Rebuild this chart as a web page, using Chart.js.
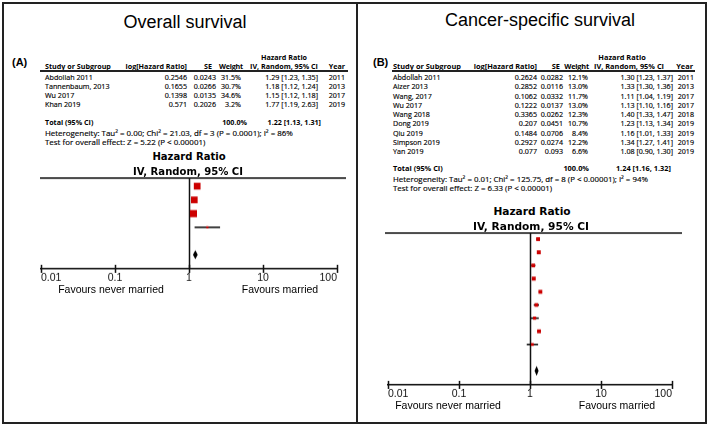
<!DOCTYPE html>
<html><head><meta charset="utf-8">
<script src="https://cdn.jsdelivr.net/npm/chart.js@4.4.1/dist/chart.umd.min.js"></script>
<style>
html,body{margin:0;padding:0;background:#fff;}
body{width:709px;height:426px;position:relative;overflow:hidden;}
.t{position:absolute;white-space:nowrap;line-height:1;color:#000;}
.r{-webkit-text-stroke:0.15px #000;}
.box{position:absolute;box-sizing:border-box;border:2px solid #222;}
.hl{position:absolute;background:#222;}
canvas{position:absolute;}
</style></head>
<body>
<script>
// ---------------- data ----------------
const osStudy  = ['Abdollah 2011','Tannenbaum, 2013','Wu 2017','Khan 2019'];
const osLogHR  = ['0.2546','0.1655','0.1398','0.571'];
const osSE     = ['0.0243','0.0266','0.0135','0.2026'];
const osWeight = [31.5,30.7,34.6,3.2];
const osHR     = [1.29,1.18,1.15,1.77];
const osLo     = [1.23,1.12,1.12,1.19];
const osHi     = [1.35,1.24,1.18,2.63];
const osYear   = [2011,2013,2017,2019];
const osTotal  = [1.22,1.13,1.31];
const osHet    = 'Heterogeneity: Tau² = 0.00; Chi² = 21.03, df = 3 (P = 0.0001); I² = 86%';
const osTest   = 'Test for overall effect: Z = 5.22 (P < 0.00001)';

const cssStudy  = ['Abdollah 2011','Aizer 2013','Wang, 2017','Wu 2017','Wang 2018','Dong 2019','Qiu 2019','Simpson 2019','Yan 2019'];
const cssLogHR  = ['0.2624','0.2852','0.1062','0.1222','0.3365','0.207','0.1484','0.2927','0.077'];
const cssSE     = ['0.0282','0.0116','0.0332','0.0137','0.0262','0.0451','0.0706','0.0274','0.093'];
const cssWeight = [12.1,13.0,11.7,13.0,12.3,10.7,8.4,12.2,6.6];
const cssHR     = [1.30,1.33,1.11,1.13,1.40,1.23,1.16,1.34,1.08];
const cssLo     = [1.23,1.30,1.04,1.10,1.33,1.13,1.01,1.27,0.90];
const cssHi     = [1.37,1.36,1.19,1.16,1.47,1.34,1.33,1.41,1.30];
const cssYear   = [2011,2013,2017,2017,2018,2019,2019,2019,2019];
const cssTotal  = [1.24,1.16,1.32];
const cssHet    = 'Heterogeneity: Tau² = 0.01; Chi² = 125.75, df = 8 (P < 0.00001); I² = 94%';
const cssTest   = 'Test for overall effect: Z = 6.33 (P < 0.00001)';

const tickValues = [0.01,0.1,1,10,100];
const tickLabels = ['0.01','0.1','1','10','100'];
const favourLeft = 'Favours never married';
const favourRight = 'Favours married';

// ---------------- helpers ----------------
const TAB = '"Open Sans","Noto Sans",sans-serif';
const HDR = '"DejaVu Sans",Verdana,sans-serif';
function sizeFor(text, weight, target, fam) {
  const s = document.createElement('span');
  s.style.cssText = 'position:absolute;white-space:nowrap;visibility:hidden;font:' + weight + ' 100px ' + fam;
  s.textContent = text; document.body.appendChild(s);
  const w = s.getBoundingClientRect().width; s.remove();
  return 100 * target / w;
}
const fnt = (weight, size, fam) => weight + ' ' + size.toFixed(2) + 'px ' + fam;
const F = {
  title: '18px "Liberation Sans",Arial,sans-serif',
  tag: 'bold 11px "Liberation Sans",Arial,sans-serif',
  ax: '10.5px "Liberation Sans",Arial,sans-serif'
};
function T(s, x, y, a, font, cls) {
  const d = document.createElement('div');
  d.className = 't' + (cls ? ' ' + cls : ''); d.textContent = s;
  d.style.left = x + 'px'; d.style.top = y + 'px';
  const tx = a === 'r' ? -100 : a === 'c' ? -50 : 0;
  d.style.transform = 'translate(' + tx + '%,-50%)';
  d.style.font = font;
  document.body.appendChild(d);
  return d;
}
function box(l, t, w, h) {
  const d = document.createElement('div'); d.className = 'box';
  Object.assign(d.style, {left: l + 'px', top: t + 'px', width: w + 'px', height: h + 'px'});
  document.body.appendChild(d);
}
function hline(x1, x2, y, th) {
  const d = document.createElement('div'); d.className = 'hl';
  Object.assign(d.style, {left: x1 + 'px', top: (y - th / 2) + 'px', width: (x2 - x1) + 'px', height: th + 'px'});
  document.body.appendChild(d);
}
const f2 = v => v.toFixed(2);
const ciText = (a, b, c) => f2(a) + ' [' + f2(b) + ', ' + f2(c) + ']';

// ---------------- frame ----------------
box(2, 2, 705, 422);
box(356, 2, 351, 422);

// ---------------- tables ----------------
function table(p, d) {
  const hs = sizeFor(d.het, 'normal', p.hetW, TAB);
  const rs = (hs + sizeFor(d.log[0], 'normal', p.numW, TAB)) / 2;
  const R = fnt('normal', rs, TAB), H = fnt('normal', hs, TAB);
  const B = fnt('bold', sizeFor('Study or Subgroup', 'bold', p.studyW, TAB), TAB);
  T(p.title, p.titleX, p.titleY, 'c', F.title);
  T(p.tag, p.tagX, 62, 'l', F.tag);
  T('Hazard Ratio', p.hrHeadX, 57, 'c', B);
  T('Study or Subgroup', p.x0, 66, 'l', B);
  T('log[Hazard Ratio]', p.h.log, 66, 'r', B);
  T('SE', p.h.se, 66, 'r', B);
  T('Weight', p.h.w, 66, 'r', B).style.letterSpacing = '-0.2px';
  T('IV, Random, 95% CI', p.h.ci, 66, 'c', B);
  T('Year', p.h.yr, 66, 'r', B);
  hline(p.line[0], p.line[1], 71, 1.3);
  d.study.forEach((s, i) => {
    const y = 77 + i * p.dy;
    T(s, p.x0, y, 'l', R, 'r');
    T(d.log[i], p.c.log, y, 'r', R, 'r');
    T(d.se[i], p.c.se, y, 'r', R, 'r');
    T(d.w[i].toFixed(1) + '%', p.c.w, y, 'r', R, 'r');
    T(ciText(d.hr[i], d.lo[i], d.hi[i]), p.c.ci, y, 'r', R, 'r');
    T(String(d.yr[i]), p.c.yr, y, 'r', R, 'r');
  });
  T('Total (95% CI)', p.x0, p.totY, 'l', B);
  T('100.0%', p.totW, p.totY, 'r', B);
  T(ciText(d.tot[0], d.tot[1], d.tot[2]), p.totCI, p.totY, 'r', B);
  T(d.het, p.x0, p.totY + 11, 'l', H, 'r');
  T(d.test, p.x0, p.totY + 20, 'l', H, 'r');
}

table({title: 'Overall survival', titleX: 185, titleY: 22, tag: '(A)', tagX: 12, hrHeadX: 284, hetW: 248, numW: 20, studyW: 66,
  x0: 45, dy: 9, h: {log: 187, se: 212, w: 243, ci: 284, yr: 345}, c: {log: 187, se: 216, w: 241, ci: 318, yr: 345},
  line: [40, 348], totY: 122, totW: 247, totCI: 321},
  {study: osStudy, log: osLogHR, se: osSE, w: osWeight, hr: osHR, lo: osLo, hi: osHi, yr: osYear, tot: osTotal, het: osHet, test: osTest});

table({title: 'Cancer-specific survival', titleX: 540, titleY: 20, tag: '(B)', tagX: 373, hrHeadX: 622, hetW: 255, numW: 20, studyW: 68,
  x0: 393, dy: 9.25, h: {log: 537, se: 560, w: 589, ci: 629, yr: 693}, c: {log: 537, se: 563, w: 588, ci: 673, yr: 694},
  line: [392, 695], totY: 168, totW: 589, totCI: 671},
  {study: cssStudy, log: cssLogHR, se: cssSE, w: cssWeight, hr: cssHR, lo: cssLo, hi: cssHi, yr: cssYear, tot: cssTotal, het: cssHet, test: cssTest});

// ---------------- forest plots ----------------
const forestPlugin = {
  id: 'forest',
  beforeDatasetsDraw(chart) {
    const o = chart.options.plugins.forest, ca = chart.chartArea, ctx = chart.ctx, x = chart.scales.x;
    ctx.save();
    ctx.strokeStyle = '#111'; ctx.lineWidth = 1.5;
    ctx.beginPath();
    ctx.moveTo(ca.left - o.ext[0], ca.top); ctx.lineTo(ca.right + o.ext[1], ca.top);
    const x1 = Math.round(x.getPixelForValue(1)) + 0.5;
    ctx.moveTo(x1, ca.top); ctx.lineTo(x1, ca.bottom);
    ctx.stroke();
    ctx.restore();
  },
  afterDatasetsDraw(chart) {
    const o = chart.options.plugins.forest, ctx = chart.ctx, x = chart.scales.x, y = chart.scales.y;
    const t = o.total, yc = y.getPixelForValue(o.totalIndex);
    ctx.save();
    ctx.fillStyle = '#000';
    ctx.beginPath();
    ctx.moveTo(x.getPixelForValue(t[1]), yc);
    ctx.lineTo(x.getPixelForValue(t[0]), yc - o.dh);
    ctx.lineTo(x.getPixelForValue(t[2]), yc);
    ctx.lineTo(x.getPixelForValue(t[0]), yc + o.dh);
    ctx.closePath(); ctx.fill();
    ctx.restore();
  },
  afterDraw(chart) {
    const ctx = chart.ctx, x = chart.scales.x, b = chart.chartArea.bottom;
    ctx.save(); ctx.strokeStyle = '#111'; ctx.lineWidth = 1.5;
    ctx.beginPath();
    x.ticks.forEach(tk => {
      const px = Math.round(x.getPixelForValue(tk.value)) + 0.5;
      ctx.moveTo(px, b - 4); ctx.lineTo(px, b + 4);
    });
    ctx.stroke(); ctx.restore();
  }
};

function forest(p, d) {
  const canvas = document.createElement('canvas');
  canvas.width = 400; canvas.height = 200;
  document.body.appendChild(canvas);
  const datasets = [{
    type: 'scatter', order: 0,
    data: d.hr.map((v, i) => ({x: v, y: i})),
    pointStyle: 'rect', borderWidth: 0,
    pointRadius: d.w.map(w => p.k * Math.sqrt(w) / Math.SQRT2),
    backgroundColor: '#cc0000'
  }];
  d.lo.forEach((lo, i) => datasets.push({
    type: 'line', order: 1, data: [{x: lo, y: i}, {x: d.hi[i], y: i}],
    borderColor: '#000', borderWidth: 1.5, pointRadius: 0
  }));
  const chart = new Chart(canvas, {
    type: 'scatter',
    data: {datasets},
    options: {
      responsive: false, maintainAspectRatio: false, animation: false, events: [],
      layout: {padding: {left: 12, right: 14, top: 8, bottom: 4}},
      plugins: {legend: {display: false}, tooltip: {enabled: false},
        forest: {ext: p.ext, total: d.tot, totalIndex: d.hr.length + 1, dh: p.dh}},
      scales: {
        x: {type: 'logarithmic', min: tickValues[0], max: tickValues[tickValues.length - 1],
          afterBuildTicks: s => { s.ticks = tickValues.map(v => ({value: v})); },
          grid: {display: false, drawTicks: false},
          border: {display: true, color: '#111', width: 1.5},
          ticks: {autoSkip: false, maxRotation: 0, align: 'inner', padding: 3, color: '#111',
            font: {family: '"Liberation Sans", Arial, sans-serif', size: 10.5},
            callback: (v, i) => tickLabels[i]}},
        y: {type: 'linear', display: false, reverse: true, min: p.ymin, max: p.ymax}
      }
    },
    plugins: [forestPlugin]
  });
  let ca = chart.chartArea;
  chart.resize(p.right - p.left + chart.width - (ca.right - ca.left), p.bottom - p.top + chart.height - (ca.bottom - ca.top));
  ca = chart.chartArea;
  canvas.style.left = (p.left - ca.left) + 'px';
  canvas.style.top = (p.top - ca.top) + 'px';
  const PH = fnt('bold', sizeFor('IV, Random, 95% CI', 'bold', p.phW, HDR), HDR);
  T('Hazard Ratio', p.hx, p.top - 22, 'c', PH);
  T('IV, Random, 95% CI', p.hx - 1, p.top - 7, 'c', PH);
  T(favourLeft, p.fl, p.bottom + 21, 'c', F.ax);
  T(favourRight, p.fr, p.bottom + 21, 'c', F.ax);
}

forest({left: 41, right: 337, top: 178, bottom: 268, ymin: -0.59, ymax: 6.03, k: 1.2, ext: [1, 9], dh: 4.5, hx: 189, fl: 111, fr: 280, phW: 110},
  {hr: osHR, lo: osLo, hi: osHi, w: osWeight, tot: osTotal});
forest({left: 388, right: 672, top: 233, bottom: 384, ymin: -0.46, ymax: 11.07, k: 1.1, ext: [3, 10], dh: 5, hx: 532, fl: 448, fr: 617, phW: 116},
  {hr: cssHR, lo: cssLo, hi: cssHi, w: cssWeight, tot: cssTotal});
</script>
</body></html>
